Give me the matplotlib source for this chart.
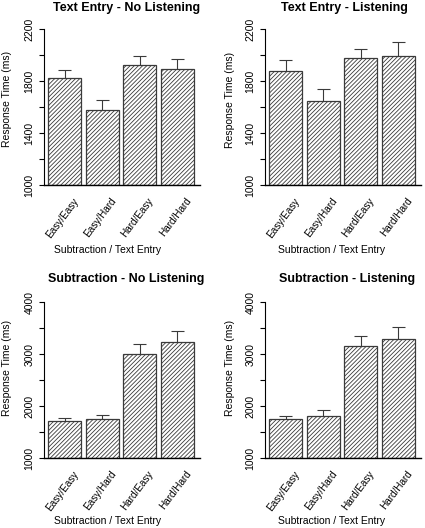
import numpy as np
import matplotlib
matplotlib.use('Agg')
import matplotlib.pyplot as plt
from matplotlib import transforms

plt.rcParams['font.family'] = ['Liberation Sans', 'DejaVu Sans']
plt.rcParams['hatch.linewidth'] = 0.6

# --- data ---
conditions = ['Easy/Easy', 'Easy/Hard', 'Hard/Easy', 'Hard/Hard']

text_no_listen = [1826, 1577, 1923, 1892]
text_no_listen_err = [59, 79, 72, 77]
text_listen = [1880, 1644, 1980, 1992]
text_listen_err = [82, 92, 69, 108]
sub_no_listen = [1704, 1742, 3009, 3233]
sub_no_listen_err = [57, 90, 179, 217]
sub_listen = [1742, 1800, 3163, 3284]
sub_listen_err = [70, 121, 179, 243]

W, H = 425, 528
fig = plt.figure(figsize=(W / 100, H / 100), dpi=100)


def px_axes(left, right, top, bottom):
    return fig.add_axes([left / W, 1 - bottom / H, (right - left) / W, (bottom - top) / H])


# layout in pixels: axes box, title / x label / y label positions
panels = [
    dict(title='Text Entry - No Listening', means=text_no_listen, errs=text_no_listen_err,
         box=(44, 200, 29, 185), ylim=(1000, 2200), step=200, tx=127, ty=11,
         xlx=108, xly=250, ylx=7, yly=99),
    dict(title='Text Entry - Listening', means=text_listen, errs=text_listen_err,
         box=(265, 421, 29, 185), ylim=(1000, 2200), step=200, tx=344, ty=11,
         xlx=332, xly=250, ylx=230, yly=100),
    dict(title='Subtraction - No Listening', means=sub_no_listen, errs=sub_no_listen_err,
         box=(44, 200, 302, 458), ylim=(1000, 4000), step=500, tx=126, ty=282,
         xlx=108, xly=521, ylx=7, yly=368),
    dict(title='Subtraction - Listening', means=sub_listen, errs=sub_listen_err,
         box=(265, 421, 302, 458), ylim=(1000, 4000), step=500, tx=347, ty=282,
         xlx=332, xly=521, ylx=230, yly=368),
]

x = np.arange(len(conditions))

for p in panels:
    ax = px_axes(*p['box'])
    means = np.array(p['means'])
    errs = np.array(p['errs'])
    ymin, ymax = p['ylim']

    ax.bar(x, means - ymin, bottom=ymin, width=0.88, color='white',
           edgecolor='#3a3a3a', linewidth=0.9, hatch='////////', zorder=2)
    ax.vlines(x, means, means + errs, color='#3a3a3a', linewidth=0.8, zorder=3)
    ax.hlines(means + errs, x - 0.175, x + 0.175, color='#3a3a3a', linewidth=0.8, zorder=3)

    ax.set_xlim(-0.55, 3.6)
    ax.set_ylim(ymin, ymax)

    ax.spines['top'].set_visible(False)
    ax.spines['right'].set_visible(False)
    ax.spines['left'].set_linewidth(0.8)
    ax.spines['bottom'].set_linewidth(1.0)

    step = p['step']
    ax.set_yticks(np.arange(ymin, ymax + 1, step * 2))
    ax.set_yticks(np.arange(ymin + step, ymax, step * 2), minor=True)
    ax.tick_params(axis='y', which='both', length=3.6, width=0.8, pad=3.2,
                   labelsize=7.5, labelrotation=90)
    for lab in ax.get_yticklabels():
        lab.set_va('center')
    ax.set_xticks([])

    trans = transforms.offset_copy(ax.get_xaxis_transform(), fig=fig, x=0, y=-11, units='dots')
    for i, c in enumerate(conditions):
        ax.text(i + 0.2, 0, c, transform=trans, rotation=53, rotation_mode='anchor',
                ha='right', va='top', fontsize=7.2)

    fig.text(p['tx'] / W, 1 - p['ty'] / H, p['title'], ha='center', va='baseline',
             fontsize=9, fontweight='bold')
    fig.text(p['xlx'] / W, 1 - p['xly'] / H, 'Subtraction / Text Entry', ha='center',
             va='center', fontsize=7.5)
    fig.text(p['ylx'] / W, 1 - p['yly'] / H, 'Response Time (ms)', ha='center',
             va='center', rotation=90, fontsize=7.5)

fig.savefig('out.png', dpi=100)
